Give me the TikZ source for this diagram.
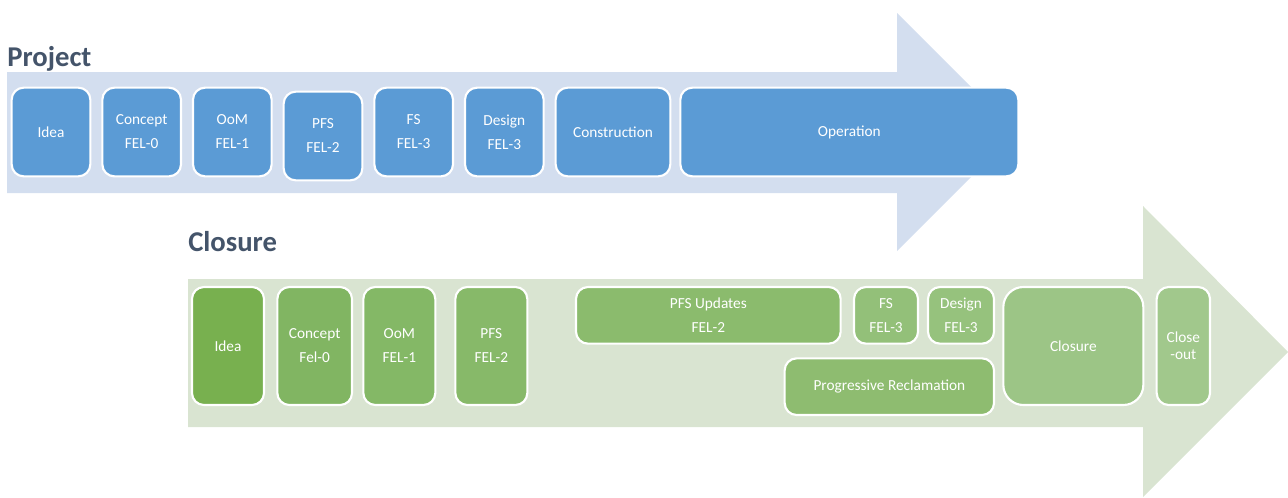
\documentclass[tikz,border=0pt]{standalone}
\usepackage{fontspec}
\setmainfont{Carlito}
\usetikzlibrary{positioning}
\definecolor{projblue}{HTML}{5B9BD5}
\definecolor{projarrow}{HTML}{D3DEEF}
\definecolor{closarrow}{HTML}{D9E4D1}
\definecolor{titlegrey}{HTML}{44546A}
\definecolor{gA}{HTML}{78B04F}
\definecolor{gB}{HTML}{81B562}
\definecolor{gC}{HTML}{84B866}
\definecolor{gD}{HTML}{87B969}
\definecolor{gE}{HTML}{8BBB6D}
\definecolor{gF}{HTML}{8EBC70}
\definecolor{gG}{HTML}{93C079}
\definecolor{gH}{HTML}{96C27D}
\definecolor{gI}{HTML}{9CC586}
\definecolor{gJ}{HTML}{A1C88C}
\tikzset{
    x=0.75pt, y=-0.75pt, % picture measured in pixels, y runs downwards
    phase/.style={draw=white, line width=1.6pt, rounded corners=9pt, text=white, align=center,
        inner sep=0pt, outer sep=0pt, font=\fontsize{11.5}{18}\selectfont}, % every box
    projphase/.style={phase, fill=projblue, minimum height=66.5pt, minimum width=59pt},
    closphase/.style={phase, minimum height=88.5pt, minimum width=54pt},
    subphase/.style={phase, minimum height=42.5pt},
    title/.style={anchor=base west, inner sep=0pt, text=titlegrey, font=\fontsize{21.5}{24}\selectfont\bfseries},
}
\begin{document}
\begin{tikzpicture}
    \useasboundingbox (0,0) rectangle (1288,497);
    % the two big arrows
    \fill[projarrow] (7,72) -- (897,72) -- (897,13) -- (1016,132) -- (897,251) -- (897,193) -- (7,193) -- cycle;
    \fill[closarrow] (188,279) -- (1143,279) -- (1143,206) -- (1288,352) -- (1143,497) -- (1143,427) -- (188,427) -- cycle;
    \node[title] (tproj) at (7,66) {Project};
    \node[title] (tclos) at (188,251) {Closure};

    % project phases
    \node[projphase] (pidea) at (51,132) {Idea};
    \node[projphase, right=9pt of pidea] (pconcept) {Concept\\FEL-0};
    \node[projphase, right=9pt of pconcept] (poom) {OoM\\FEL-1};
    \node[projphase, right=9pt of poom, yshift=-3pt] (ppfs) {PFS\\FEL-2};
    \node[projphase, right=9pt of ppfs, yshift=3pt] (pfs) {FS\\FEL-3};
    \node[projphase, right=9pt of pfs] (pdesign) {Design\\FEL-3};
    \node[projphase, right=9pt of pdesign, minimum width=86pt] (pconstr) {Construction};
    \node[projphase, right=7.5pt of pconstr, minimum width=253.5pt] (poper) {Operation};

    % closure phases
    \node[closphase, fill=gA] (cidea) at (228,346) {Idea};
    \node[closphase, fill=gB, right=10pt of cidea, minimum width=56pt] (cconcept) {Concept\\Fel-0};
    \node[closphase, fill=gC, right=8.5pt of cconcept] (coom) {OoM\\FEL-1};
    \node[closphase, fill=gD, right=15pt of coom] (cpfs) {PFS\\FEL-2};
    \node[subphase, fill=gE, anchor=north west, minimum width=198.5pt] (cupd) at ([xshift=36.5pt]cpfs.north east) {PFS Updates\\FEL-2};
    \node[subphase, fill=gG, right=10pt of cupd, minimum width=48pt] (cfs) {FS\\FEL-3};
    \node[subphase, fill=gH, right=7.5pt of cfs, minimum width=49.5pt] (cdesign) {Design\\FEL-3};
    \node[subphase, fill=gF, anchor=north east, minimum width=157pt] (cprog) at ([yshift=-11pt]cdesign.south east) {Progressive Reclamation};
    \node[closphase, fill=gI, anchor=north west, minimum width=105pt, rounded corners=15pt] (cclosure) at ([xshift=7pt]cdesign.north east) {Closure};
    \node[closphase, fill=gJ, right=10pt of cclosure, minimum width=40pt, font=\fontsize{11.5}{13}\selectfont] (cout) {Close\\-out};
\end{tikzpicture}
\end{document}
